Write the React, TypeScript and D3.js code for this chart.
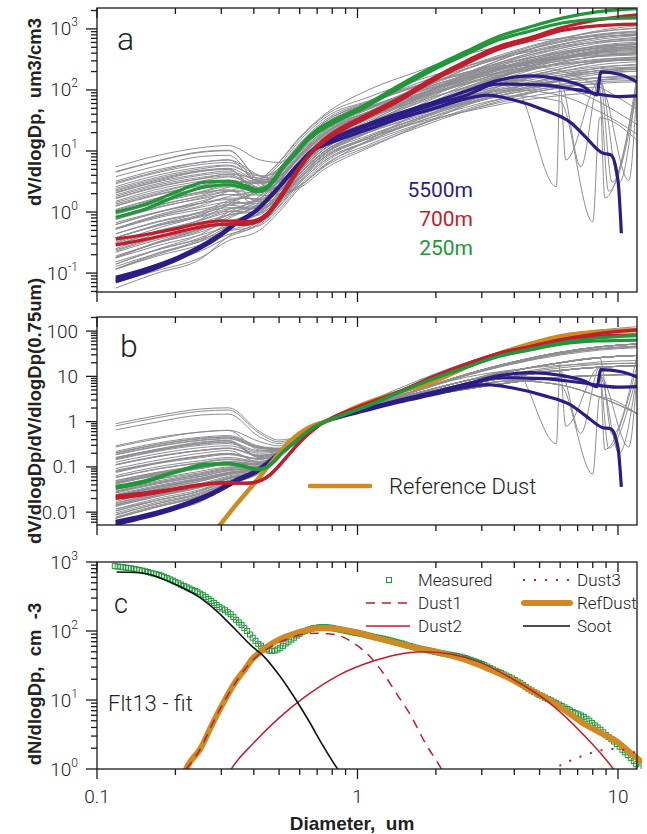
import React from 'react';
import * as d3 from 'd3';

const grid = [0.118, 0.17, 0.25, 0.32, 0.42, 0.5, 0.6, 0.75, 1.1, 1.7, 2.6, 4, 6, 8.5, 11.83];

// dV/dlogDp of the grey profiles (um3/cm3), one row per profile, on `grid`
const greyProfiles = [
  [5.5, 8.4, 11.3, 12.3, 7.2, 6.5, 11.3, 25, 50, 95, 162, 250, 338, 400, 425],
  [4.6, 6.9, 9.7, 10.3, 3.1, 2.0, 2.5, 5.1, 11.2, 25.5, 56, 107, 173, 230, 265],
  [4.5, 6.8, 9.5, 10.1, 3.1, 2.0, 2.7, 5.6, 11.8, 24, 45, 76, 112, 146, 162],
  [3.8, 5.7, 8.1, 8.5, 2.7, 1.9, 2.7, 5.8, 15, 41, 99, 197, 336, 435, 487],
  [3.2, 4.9, 6.5, 7.1, 4.0, 3.2, 5.1, 11, 23, 47, 88, 149, 220, 286, 319],
  [2.9, 4.4, 6.0, 6.5, 3.9, 3.5, 6.3, 14, 31, 70, 154, 294, 476, 630, 728],
  [2.6, 4.0, 5.4, 5.9, 3.5, 3.3, 5.9, 13, 26, 49, 85, 130, 176, 208, 221],
  [2.3, 3.5, 4.8, 5.2, 3.2, 3.0, 5.6, 12.5, 25, 45, 75, 100, 81, 44, 19],
  [2.1, 3.2, 4.6, 5.0, 2.2, 2.6, 5.6, 13, 29, 65, 143, 273, 442, 585, 676],
  [1.9, 2.9, 4.0, 4.4, 3.0, 3.3, 6.6, 15, 28, 51, 78, 112, 142, 158, 165],
  [1.7, 2.6, 3.5, 3.9, 2.5, 2.5, 4.9, 11, 29, 77, 187, 374, 638, 825, 924],
  [1.5, 2.35, 3.2, 3.75, 2.9, 3.9, 8.6, 20, 42, 86, 160, 270, 400, 520, 580],
  [1.35, 2.05, 2.95, 3.2, 1.44, 1.8, 3.9, 9, 18, 34, 58, 90, 121, 144, 153],
  [1.25, 1.9, 2.7, 3.3, 2.95, 4.5, 10.7, 25, 50, 100, 175, 290, 420, 520, 560],
  [1.1, 1.7, 2.4, 2.7, 2.1, 2.7, 6.1, 14, 29, 60, 112, 189, 280, 364, 406],
  [1.06, 1.65, 2.4, 3.0, 3.1, 5.25, 12.8, 30, 63, 129, 240, 405, 600, 780, 870],
  [0.92, 1.4, 2.0, 2.3, 1.24, 1.8, 4.3, 10, 22, 50, 110, 210, 340, 450, 520],
  [0.84, 1.3, 1.8, 2.2, 2.06, 3.25, 7.7, 18, 36, 65, 108, 144, 117, 63, 27],
  [0.79, 1.26, 1.86, 2.56, 3.2, 5.9, 14.8, 35, 66, 119, 182, 262, 332, 368, 385],
  [0.67, 1.0, 1.4, 1.6, 1.2, 1.57, 3.5, 8, 17, 34, 64, 108, 160, 208, 232],
  [0.62, 0.98, 1.5, 1.94, 1.9, 3.7, 9.3, 22, 48, 110, 240, 440, 700, 900, 1020],
  [0.54, 0.84, 1.2, 1.45, 1.36, 2.15, 5.1, 12, 23, 41, 62, 90, 114, 126, 132],
  [0.54, 0.89, 1.4, 2.2, 3.3, 6.6, 16.9, 40, 100, 200, 380, 560, 700, 760, 780],
  [0.44, 0.7, 1.0, 1.34, 1.53, 2.74, 6.8, 16, 35, 80, 176, 336, 544, 720, 832],
  [0.38, 0.59, 0.83, 1.03, 0.99, 1.6, 3.85, 9, 25, 72, 180, 378, 675, 945, 1125],
  [0.38, 0.62, 1.0, 1.54, 2.15, 4.6, 11.8, 28, 59, 120, 224, 378, 560, 728, 812],
  [0.31, 0.49, 0.73, 1.0, 1.26, 2.37, 5.9, 14, 28, 53, 91, 140, 189, 224, 238],
  [0.29, 0.48, 0.74, 1.1, 1.65, 3.3, 8.4, 20, 44, 100, 220, 420, 680, 900, 1040],
  [0.23, 0.37, 0.52, 0.67, 0.71, 1.22, 2.97, 7, 14, 27, 45.5, 70, 94.5, 112, 119],
  [0.25, 0.45, 0.76, 1.36, 2.43, 5.2, 13.4, 32, 64, 115, 192, 256, 208, 112, 48],
  [0.19, 0.31, 0.47, 0.69, 0.94, 1.84, 4.6, 11, 23, 47, 88, 149, 220, 286, 319],
  [0.18, 0.31, 0.5, 0.83, 1.34, 2.8, 7.2, 17, 36, 73, 136, 230, 340, 442, 493],
  [0.18, 0.32, 0.55, 1.0, 1.8, 3.9, 10, 24, 48, 91, 156, 240, 324, 384, 408],
  [0.128, 0.21, 0.33, 0.5, 0.74, 1.49, 3.8, 9, 20, 45, 99, 189, 306, 405, 468],
  [0.116, 0.2, 0.34, 0.58, 1.0, 2.1, 5.5, 13, 25, 44, 68, 98, 124, 137, 143],
  [0.07, 0.11, 0.18, 0.34, 0.5, 1.0, 2.5, 6, 12.6, 26, 48, 81, 120, 156, 174],
  [0.057, 0.1, 0.17, 0.4, 0.72, 1.6, 4.2, 10, 20, 36, 60, 80, 65, 35, 15],
  [2.04, 3.1, 4.2, 4.7, 3.3, 3.8, 7.9, 18, 38, 77, 144, 243, 360, 468, 522],
  [1.8, 2.75, 3.7, 4.1, 2.5, 2.3, 4.3, 9.5, 21, 47.5, 104, 200, 323, 428, 494],
  [1.28, 1.95, 2.7, 3.1, 2.4, 3.1, 6.9, 16, 35, 80, 176, 336, 544, 720, 832],
  [0.99, 1.5, 2.1, 2.6, 2.35, 3.6, 8.5, 20, 40, 76, 130, 200, 270, 320, 340],
  [0.77, 1.2, 1.64, 1.94, 1.6, 2.26, 5.1, 12, 25, 52, 96, 162, 240, 312, 348],
  [0.63, 0.98, 1.38, 1.7, 1.65, 2.67, 6.4, 15, 33, 75, 165, 315, 510, 675, 780],
  [0.53, 0.85, 1.27, 1.8, 2.3, 4.4, 11, 26, 52, 99, 169, 260, 351, 416, 442],
  [0.44, 0.68, 0.96, 1.18, 1.12, 1.8, 4.3, 10, 20, 38, 65, 100, 135, 160, 170],
  [0.38, 0.6, 0.91, 1.28, 1.67, 3.2, 8.0, 19, 40, 82, 152, 256, 380, 494, 551],
  [0.29, 0.46, 0.67, 0.9, 1.04, 1.88, 4.6, 11, 24, 55, 121, 231, 374, 495, 572],
  [0.24, 0.39, 0.6, 0.89, 1.26, 2.5, 6.3, 15, 28.5, 51, 78, 112, 142, 158, 165],
  [0.176, 0.28, 0.42, 0.58, 0.72, 1.35, 3.4, 8, 17, 34, 64, 108, 160, 208, 232],
  [0.18, 0.32, 0.53, 0.92, 1.6, 3.4, 8.8, 21, 44, 100, 215, 400, 620, 800, 900],
  [0.14, 0.24, 0.38, 0.61, 0.96, 1.97, 5.0, 12, 24, 46, 78, 120, 162, 192, 204],
  [0.115, 0.19, 0.29, 0.43, 0.62, 1.25, 3.2, 7.5, 16, 32, 60, 101, 150, 195, 218],
  [0.117, 0.21, 0.36, 0.66, 1.2, 2.6, 6.7, 16, 34, 69, 128, 216, 320, 416, 464],
  [0.082, 0.14, 0.23, 0.39, 0.66, 1.39, 3.6, 8.5, 16, 29, 44, 64, 81, 89, 94],
  [2.44, 3.7, 5.1, 5.7, 3.9, 4.6, 9.6, 22, 44, 84, 143, 220, 297, 352, 374],
  [1.66, 2.54, 3.5, 4.2, 3.6, 5.2, 12, 28, 53, 95, 146, 210, 266, 294, 308],
  [1.43, 2.17, 2.96, 3.3, 2.3, 2.7, 5.7, 13, 28, 62, 135, 255, 410, 540, 610],
  [1.0, 1.54, 2.1, 2.3, 1.5, 1.57, 3.1, 7, 14.7, 30, 56, 94.5, 140, 182, 203],
  [0.75, 1.17, 1.7, 2.2, 2.4, 4.2, 10.1, 24, 50, 103, 192, 324, 480, 624, 696],
  [0.52, 0.8, 1.1, 1.3, 1.13, 1.67, 3.9, 9, 20, 44, 95, 175, 280, 360, 400],
  [0.38, 0.6, 0.86, 1.13, 1.26, 2.24, 5.5, 13, 27, 52, 92, 145, 200, 240, 255],
  [0.32, 0.54, 0.88, 1.45, 2.36, 4.9, 12.6, 30, 60, 114, 195, 300, 405, 480, 510],
  [0.22, 0.35, 0.52, 0.72, 0.9, 1.69, 4.2, 10, 21, 43, 80, 135, 200, 260, 290],
  [0.153, 0.24, 0.36, 0.49, 0.6, 1.1, 2.7, 6.5, 14.3, 32.5, 71.5, 136, 221, 292, 338],
  [0.14, 0.245, 0.43, 0.78, 1.43, 3.1, 8.0, 19, 38, 72, 124, 190, 257, 304, 323],
  [3.04, 4.6, 6.5, 7.2, 3.1, 3.8, 8.2, 19, 40, 82, 152, 256, 380, 494, 551],
  [2.2, 3.34, 4.7, 5.1, 1.9, 1.83, 3.6, 8, 16, 30, 52, 80, 108, 128, 136],
  [0.93, 1.47, 2.16, 2.9, 3.5, 6.5, 16.1, 38, 76, 144, 247, 380, 513, 608, 646],
];

// sharp dropouts in some grey profiles: [profile row, diameter, dV/dlogDp]
const greySpikes = [
  [19, 5.8, 2.6],
  [12, 6.3, 7.1],
  [36, 8.0, 0.69],
  [28, 8.9, 1.7],
  [21, 11.0, 3.3],
  [35, 9.5, 3.1],
  [9, 10.1, 3.0],
  [44, 7.2, 5.5],
  [53, 9.2, 2.2],
];

// highlighted profiles [diameter, dV/dlogDp]
const alt250 = [
  [[0.118, 1.0], [0.15, 1.3], [0.2, 2.1], [0.26, 3.1], [0.32, 3.2], [0.372, 2.7], [0.41, 2.35], [0.44, 2.5], [0.475, 3.35], [0.515, 5.5], [0.58, 9.7], [0.65, 17], [0.75, 27], [0.8, 31], [1.08, 58], [1.45, 120], [1.94, 235], [2.62, 430], [3.5, 760], [4.5, 1050], [6.1, 1500], [8.3, 1900], [11.83, 2150]],
  [[0.118, 0.82], [0.15, 1.08], [0.2, 1.8], [0.26, 2.6], [0.32, 2.8], [0.372, 2.45], [0.41, 2.15], [0.44, 2.3], [0.475, 3.1], [0.515, 5.1], [0.58, 9.0], [0.65, 15.5], [0.75, 24], [0.8, 28], [1.08, 53], [1.45, 108], [1.94, 210], [2.62, 385], [3.5, 670], [4.5, 900], [6.1, 1250], [8.3, 1450], [11.83, 1520]],
];
const alt700 = [
  [[0.118, 0.36], [0.15, 0.42], [0.2, 0.53], [0.24, 0.63], [0.3, 0.72], [0.37, 0.7], [0.4, 0.72], [0.43, 0.82], [0.46, 1.05], [0.5, 1.7], [0.55, 3.2], [0.6, 5.6], [0.69, 11.5], [0.75, 16], [0.8, 19.5], [1.08, 39], [1.45, 74], [1.94, 155], [2.62, 300], [3.5, 520], [4.5, 700], [6.1, 1050], [8.3, 1400], [11.83, 1700]],
  [[0.118, 0.29], [0.15, 0.35], [0.2, 0.46], [0.24, 0.55], [0.3, 0.63], [0.37, 0.63], [0.4, 0.66], [0.43, 0.75], [0.46, 0.96], [0.5, 1.55], [0.55, 2.9], [0.6, 5.2], [0.69, 10.8], [0.75, 14.5], [0.8, 17.5], [1.08, 35], [1.45, 67], [1.94, 140], [2.62, 270], [3.5, 470], [4.5, 640], [6.1, 940], [8.3, 1120], [11.83, 1200]],
];
const alt5500 = [
  [[0.118, 0.085], [0.15, 0.113], [0.206, 0.185], [0.28, 0.37], [0.35, 0.72], [0.405, 1.05], [0.485, 2.3], [0.58, 5.5], [0.69, 11.5], [0.75, 14], [0.8, 16], [1.08, 27], [1.45, 42], [1.94, 62], [2.62, 96], [3.5, 145], [4.6, 170], [6.1, 146], [7.4, 112], [8.3, 83], [8.6, 197], [10.3, 177], [11.83, 135]],
  [[0.118, 0.072], [0.15, 0.1], [0.206, 0.17], [0.28, 0.34], [0.35, 0.68], [0.405, 1.0], [0.485, 2.2], [0.58, 5.3], [0.69, 11.2], [0.75, 13.5], [0.8, 15.5], [1.08, 25], [1.45, 38], [1.94, 57], [2.62, 82], [3.4, 125], [5.2, 120], [7.0, 100], [10.0, 78], [11.83, 80]],
  [[0.118, 0.078], [0.15, 0.105], [0.206, 0.175], [0.28, 0.35], [0.35, 0.7], [0.405, 1.02], [0.485, 2.2], [0.58, 5.2], [0.69, 10.8], [0.75, 12.5], [0.8, 14], [1.08, 22], [1.45, 34], [1.94, 49], [2.62, 72], [3.14, 82], [3.95, 69], [5.2, 47], [6.6, 29], [7.5, 17], [8.7, 9.3], [9.4, 8.6], [10.0, 3.3], [10.3, 0.45]],
];

// reference dust, normalised at 0.75 um (panel b)
const refDustNorm = [[0.28, 0.0035], [0.293, 0.0048], [0.341, 0.0143], [0.396, 0.039], [0.458, 0.108], [0.546, 0.35], [0.653, 0.75], [0.75, 1.0], [0.99, 2.1], [1.45, 4.5], [1.9, 7.2], [2.55, 15], [3.4, 30], [4.6, 52], [6.1, 78], [8.3, 97], [11.83, 105]];

// panel c: Flt13 number distribution and fit modes (dN/dlogDp, cm-3)
const measuredD = [0.117, 0.12, 0.123, 0.126, 0.129, 0.132, 0.135, 0.1385, 0.142, 0.1455, 0.149, 0.153, 0.157, 0.161, 0.165, 0.169, 0.173, 0.177, 0.181, 0.186, 0.191, 0.1955, 0.2, 0.205, 0.21, 0.2155, 0.221, 0.2265, 0.232, 0.2375, 0.243, 0.249, 0.255, 0.2615, 0.268, 0.2745, 0.281, 0.288, 0.295, 0.3025, 0.31, 0.318, 0.326, 0.334, 0.342, 0.3505, 0.359, 0.368, 0.377, 0.3865, 0.396, 0.406, 0.416, 0.426, 0.436, 0.447, 0.458, 0.4695, 0.481, 0.493, 0.505, 0.5175, 0.53, 0.5435, 0.557, 0.571, 0.585, 0.5995, 0.614, 0.6295, 0.645, 0.661, 0.677, 0.694, 0.711, 0.7285, 0.746, 0.765, 0.784, 0.8035, 0.823, 0.8435, 0.864, 0.8855, 0.907, 0.9295, 0.952, 0.976, 1.0, 1.025, 1.05, 1.075, 1.1, 1.13, 1.16, 1.19, 1.22, 1.25, 1.28, 1.31, 1.34, 1.375, 1.41, 1.445, 1.48, 1.515, 1.55, 1.59, 1.63, 1.67, 1.71, 1.755, 1.8, 1.845, 1.89, 1.935, 1.98, 2.03, 2.08, 2.13, 2.18, 2.235, 2.29, 2.35, 2.41, 2.47, 2.53, 2.59, 2.65, 2.72, 2.79, 2.86, 2.93, 3.0, 3.07, 3.15, 3.23, 3.31, 3.39, 3.475, 3.56, 3.645, 3.73, 3.825, 3.92, 4.02, 4.12, 4.22, 4.32, 4.43, 4.54, 4.655, 4.77, 4.885, 5.0, 5.125, 5.25, 5.385, 5.52, 5.655, 5.79, 5.935, 6.08, 6.235, 6.39, 6.545, 6.7, 6.87, 7.04, 7.215, 7.39, 7.575, 7.76, 7.955, 8.15, 8.355, 8.56, 8.775, 8.99, 9.21, 9.43, 9.67, 9.91, 10.15, 10.4, 10.65, 10.9, 11.2, 11.5, 11.75, 12.0];
const measuredN = [870, 860, 850, 840, 830, 820, 810, 795, 780, 765, 750, 733, 716, 698, 680, 665, 650, 630, 610, 585, 560, 537, 515, 492, 470, 450, 430, 412, 395, 380, 365, 347, 330, 310, 290, 272, 255, 238, 222, 211, 200, 187, 175, 159, 145, 133, 122, 110, 100, 89, 80, 72, 65, 61, 57, 54, 52, 51.5, 52, 54, 57, 61, 66, 70, 75, 80, 86, 91, 97, 100, 104, 107, 110, 111, 113, 113.5, 114, 113, 112, 110, 108, 106, 104, 102, 100, 98, 96, 94.5, 93, 91.5, 90, 88, 86, 84, 82, 80.5, 79, 77.5, 76, 74.5, 73, 71, 69, 67.5, 66, 64, 62, 60.5, 59, 57.5, 56, 55, 54, 53, 52, 51, 50, 49, 48, 47.2, 46.5, 45.7, 45, 44.2, 43.5, 42.5, 41.5, 40.5, 39.5, 38.2, 37, 35.7, 34.5, 33.2, 32, 30.5, 29, 27.7, 26.5, 25.5, 24.5, 23.5, 22.5, 21.5, 20.5, 19.5, 18.5, 17.5, 16.5, 15.5, 14.5, 13.7, 13, 12.4, 11.8, 11.3, 10.8, 10.3, 9.9, 9.45, 9.0, 8.6, 8.2, 7.8, 7.4, 7.05, 6.7, 6.45, 6.2, 5.95, 5.7, 5.35, 5.0, 4.65, 4.3, 4.0, 3.7, 3.4, 3.1, 2.9, 2.7, 2.5, 2.3, 2.1, 1.9, 1.75, 1.6, 1.45, 1.3, 1.17, 1.05];
const refDust = [[0.215, 0.8], [0.22, 1.0], [0.25, 2.0], [0.274, 4.1], [0.3, 8], [0.339, 18], [0.37, 28], [0.394, 39], [0.43, 52], [0.461, 63], [0.51, 78], [0.556, 88], [0.62, 100], [0.707, 110], [0.78, 110], [0.849, 106], [1.0, 95], [1.2, 78], [1.58, 60], [2.14, 47], [2.6, 38], [3.2, 28], [3.95, 19.5], [4.6, 14], [5.38, 10.3], [6.3, 7], [7.34, 4.6], [8.5, 3.4], [9.9, 2.5], [11.0, 1.8], [12.2, 1.3]];
const dust1 = [[0.22, 1.0], [0.25, 2.0], [0.274, 4.1], [0.3, 8], [0.339, 17.5], [0.394, 37], [0.461, 58], [0.556, 80], [0.62, 90], [0.707, 93], [0.78, 91], [0.849, 86], [0.95, 70], [1.056, 52], [1.17, 35], [1.27, 23], [1.42, 12], [1.58, 6.5], [1.83, 2.3], [2.1, 1.0], [2.15, 0.85]];
const dust2 = [[0.32, 0.85], [0.328, 1.0], [0.4, 2.4], [0.5, 5.5], [0.626, 11], [0.849, 23], [1.157, 37], [1.4, 45], [1.8, 50], [2.3, 46], [2.91, 36], [3.95, 20], [5.38, 9.5], [7.34, 3.2], [9.6, 1.0], [9.9, 0.85]];
const dust3 = [[5.5, 0.9], [5.7, 1.0], [6.5, 1.3], [7.5, 1.6], [8.5, 1.85], [9.5, 1.95], [10.5, 1.9], [11.5, 1.75], [12.2, 1.6]];
const soot = [[0.119, 716], [0.14, 705], [0.157, 670], [0.18, 560], [0.214, 420], [0.25, 300], [0.291, 188], [0.34, 105], [0.39, 62], [0.434, 44], [0.5, 23], [0.589, 9.2], [0.65, 5], [0.731, 2.3], [0.84, 1.0], [0.87, 0.85]];

const NAVY = '#2b1d87';
const RED = '#bf1e2d';
const GREEN = '#22963a';
const ORANGE = '#cf8a22';
const GREY = '#8e8e92';
const LIGHT = 'Roboto, "Liberation Sans", sans-serif';
const BOLD = '"Liberation Sans", Arial, sans-serif';

const x = d3.scaleLog().domain([0.1, 11.83]).range([97, 637]);
const ya = d3.scaleLog().domain([0.049, 2200]).range([292, 8]);
const yb = d3.scaleLog().domain([0.0052, 205]).range([525, 317]);
const yc = d3.scaleLog().domain([1, 1000]).range([769, 562]);

const isMajor = (v: number) => Math.abs(Math.log10(v) - Math.round(Math.log10(v))) < 1e-6;

function greyPoints(i: number) {
  const pts = grid.map((d, k) => [d, greyProfiles[i][k]]);
  greySpikes.filter(s => s[0] === i).forEach(s => pts.push([s[1], s[2]]));
  return pts.sort((a, b) => a[0] - b[0]);
}
const at075 = (pts: number[][]) => pts.find(p => p[0] === 0.75)![1];
const normalise = (pts: number[][]) => {
  const v = at075(pts);
  return pts.map(p => [p[0], p[1] / v]);
};

function makeLine(y: any) {
  return d3.line<number[]>()
    .x(d => x(d[0]))
    .y(d => y(d[1]))
    .curve(d3.curveMonotoneX);
}

function Frame({ y, top, bottom, labels }: any) {
  const xt = x.ticks();
  const yt = y.ticks().filter((v: number) => y(v) >= top - 0.5 && y(v) <= bottom + 0.5);
  return (
    <g stroke="#1a1a1a" strokeWidth={1.3}>
      <rect x={97} y={top} width={540} height={bottom - top} fill="none" />
      {xt.map((v: number) => {
        const len = isMajor(v) ? 10 : 6;
        const px = x(v);
        return (
          <g key={'x' + v}>
            <line x1={px} x2={px} y1={top} y2={top + len} />
            <line x1={px} x2={px} y1={bottom} y2={bottom + len} />
          </g>
        );
      })}
      {yt.map((v: number) => {
        const len = isMajor(v) ? 11 : 6;
        return <line key={'y' + v} x1={97} x2={97 - len} y1={y(v)} y2={y(v)} />;
      })}
      <g stroke="none" fill="#222" fontFamily={LIGHT} fontWeight={300}>
        {labels.map((l: any) => (
          <text key={l.v} x={78} y={y(l.v) + 6.5} textAnchor="end" fontSize={19}>
            {l.base}
            {l.exp !== undefined && <tspan dy={-9} fontSize={12}>{l.exp}</tspan>}
          </text>
        ))}
      </g>
    </g>
  );
}

export default function App() {
  const la = makeLine(ya);
  const lb = makeLine(yb);
  const lc = makeLine(yc);
  const greyA = greyProfiles.map((_, i) => greyPoints(i));
  const greyB = greyA.map(normalise);

  const labelsA = [-1, 0, 1, 2, 3].map(e => ({ v: Math.pow(10, e), base: '10', exp: String(e) }));
  const labelsB = [[0.01, '0.01'], [0.1, '0.1'], [1, '1'], [10, '10'], [100, '100']].map(d => ({ v: d[0], base: d[1] }));
  const labelsC = [0, 1, 2, 3].map(e => ({ v: Math.pow(10, e), base: '10', exp: String(e) }));

  return (
    <div style={{ position: 'absolute', left: 0, top: 0 }}>
      <svg width={647} height={834} style={{ display: 'block', background: '#fff' }}>
        <defs>
          <clipPath id="ca"><rect x={97} y={8} width={540} height={284} /></clipPath>
          <clipPath id="cb"><rect x={97} y={317} width={540} height={208} /></clipPath>
          <clipPath id="cc"><rect x={97} y={562} width={545} height={207} /></clipPath>
        </defs>

        {/* panel a */}
        <g clipPath="url(#ca)" fill="none" strokeLinejoin="round">
          {greyA.map((p, i) => <path key={i} d={la(p)!} stroke={GREY} strokeWidth={1} />)}
          {alt5500.map((p, i) => <path key={'n' + i} d={la(p)!} stroke={NAVY} strokeWidth={3.2} />)}
          {alt700.map((p, i) => <path key={'r' + i} d={la(p)!} stroke={RED} strokeWidth={3.2} />)}
          {alt250.map((p, i) => <path key={'g' + i} d={la(p)!} stroke={GREEN} strokeWidth={3.2} />)}
        </g>
        <Frame y={ya} top={8} bottom={292} labels={labelsA} />
        <text x={117} y={50} fontSize={32} fontFamily={LIGHT} fontWeight={300} fill="#222">a</text>
        <g fontFamily={LIGHT} fontSize={21} textAnchor="end">
          <text x={473} y={197} fill={NAVY}>5500m</text>
          <text x={473} y={226} fill={RED}>700m</text>
          <text x={473} y={255} fill={GREEN}>250m</text>
        </g>

        {/* panel b */}
        <g clipPath="url(#cb)" fill="none" strokeLinejoin="round">
          {greyB.map((p, i) => <path key={i} d={lb(p)!} stroke={GREY} strokeWidth={1} />)}
          {alt5500.map((p, i) => <path key={'n' + i} d={lb(normalise(p))!} stroke={NAVY} strokeWidth={3.2} />)}
          <path d={lb(refDustNorm)!} stroke={ORANGE} strokeWidth={4.5} />
          {alt700.map((p, i) => <path key={'r' + i} d={lb(normalise(p))!} stroke={RED} strokeWidth={3.2} />)}
          {alt250.map((p, i) => <path key={'g' + i} d={lb(normalise(p))!} stroke={GREEN} strokeWidth={3.2} />)}
        </g>
        <Frame y={yb} top={317} bottom={525} labels={labelsB} />
        <text x={120} y={357} fontSize={32} fontFamily={LIGHT} fontWeight={300} fill="#222">b</text>
        <line x1={310} x2={370} y1={486} y2={486} stroke={ORANGE} strokeWidth={4.5} strokeLinecap="round" />
        <text x={389} y={494} fontSize={22} fontFamily={LIGHT} fontWeight={300} fill="#222">Reference Dust</text>

        {/* panel c */}
        <g clipPath="url(#cc)" fill="none">
          {measuredD.map((d, i) => (
            <rect key={i} x={x(d) - 2.5} y={yc(measuredN[i]) - 2.5} width={5} height={5} stroke={GREEN} strokeWidth={1} />
          ))}
          <path d={lc(refDust)!} stroke={ORANGE} strokeWidth={6} strokeLinecap="round" />
          <path d={lc(dust1)!} stroke={RED} strokeWidth={1.5} strokeDasharray="9,7" />
          <path d={lc(dust2)!} stroke={RED} strokeWidth={1.5} />
          <path d={lc(dust3)!} stroke={RED} strokeWidth={2} strokeDasharray="2,9" />
          <path d={lc(soot)!} stroke="#111" strokeWidth={1.6} />
        </g>
        <Frame y={yc} top={562} bottom={769} labels={labelsC} />
        <text x={114} y={613} fontSize={27} fontFamily={LIGHT} fontWeight={300} fill="#222">c</text>
        <text x={108} y={711} fontSize={22} fontFamily={LIGHT} fontWeight={300} fill="#222">Flt13 - fit</text>

        {/* panel c legend */}
        <g fontFamily={LIGHT} fontWeight={300} fontSize={17} fill="#222">
          <rect x={386.5} y={577.5} width={5} height={5} fill="none" stroke={GREEN} strokeWidth={1} />
          <text x={418} y={586}>Measured</text>
          <line x1={366} x2={410} y1={603} y2={603} stroke={RED} strokeWidth={1.5} strokeDasharray="9,7" />
          <text x={418} y={609}>Dust1</text>
          <line x1={366} x2={410} y1={626} y2={626} stroke={RED} strokeWidth={1.5} />
          <text x={418} y={632}>Dust2</text>
          <line x1={523} x2={570} y1={580} y2={580} stroke={RED} strokeWidth={2} strokeDasharray="2,9" />
          <text x={577} y={586}>Dust3</text>
          <line x1={524} x2={570} y1={603} y2={603} stroke={ORANGE} strokeWidth={6} strokeLinecap="round" />
          <text x={577} y={609}>RefDust</text>
          <line x1={523} x2={570} y1={626} y2={626} stroke="#111" strokeWidth={1.6} />
          <text x={577} y={632}>Soot</text>
        </g>

        {/* x tick labels and titles */}
        <g fontFamily={LIGHT} fontWeight={300} fontSize={19} fill="#222" textAnchor="middle">
          {[0.1, 1, 10].map(v => <text key={v} x={x(v)} y={803}>{String(v)}</text>)}
        </g>
        <text x={352} y={830} textAnchor="middle" fontFamily={BOLD} fontWeight="bold" fontSize={19} fill="#222" style={{ whiteSpace: 'pre' }}>Diameter,  um</text>
        <g fontFamily={BOLD} fontWeight="bold" fontSize={18.5} fill="#222" textAnchor="middle">
          <text transform="translate(41,112) rotate(-90)" style={{ whiteSpace: 'pre' }}>dV/dlogDp,  um3/cm3</text>
          <text transform="translate(41,411) rotate(-90)">dV/dlogDp/dV/dlogDp(0.75um)</text>
          <text transform="translate(41,684) rotate(-90)" style={{ whiteSpace: 'pre' }}>dN/dlogDp,  cm  -3</text>
        </g>
      </svg>
    </div>
  );
}
